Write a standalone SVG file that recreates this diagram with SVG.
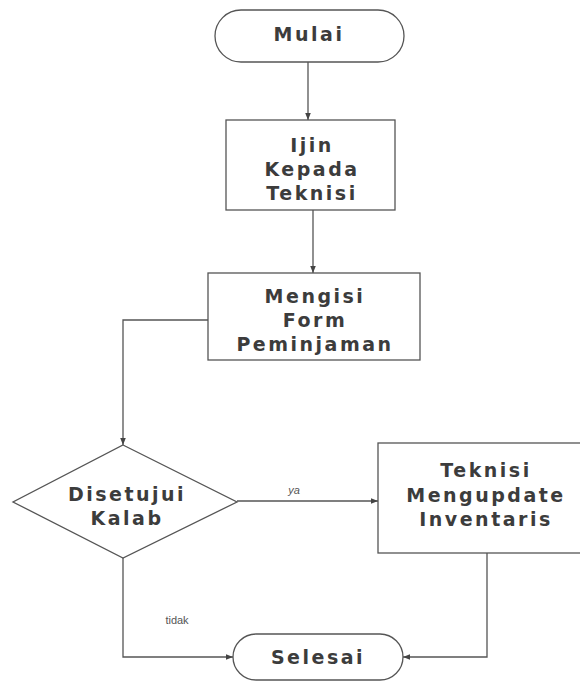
<svg xmlns="http://www.w3.org/2000/svg" width="580" height="681" viewBox="0 0 580 681">
<defs>
<style>
.shape{fill:#fff;stroke:#555;stroke-width:1.3}
.t{font-family:"DejaVu Sans",Verdana,sans-serif;font-weight:bold;font-size:19px;fill:#3c3c3c;letter-spacing:2.5px;text-anchor:middle}
.lbl{font-family:"Liberation Sans",Arial,sans-serif;font-size:11px;fill:#555;text-anchor:middle}
.c{fill:none;stroke:#555;stroke-width:1.3}
</style>
<marker id="ah" viewBox="0 0 10 10" refX="10" refY="5" markerWidth="7" markerHeight="7" orient="auto" markerUnits="userSpaceOnUse">
<path d="M0,1 L10,5 L0,9 z" fill="#444"/>
</marker>
</defs>
<rect width="580" height="681" fill="#fff"/>
<g id="connectors">
<path class="c" d="M308,62 V120" marker-end="url(#ah)"/>
<path class="c" d="M313,210 V273" marker-end="url(#ah)"/>
<path class="c" d="M208,320 H123 V445" marker-end="url(#ah)"/>
<path class="c" d="M237,501 H378" marker-end="url(#ah)"/>
<path class="c" d="M487,553 V657 H403" marker-end="url(#ah)"/>
<path class="c" d="M123,558 V657 H233" marker-end="url(#ah)"/>
<text class="lbl" x="294" y="494" font-style="italic">ya</text>
<text class="lbl" x="177" y="624">tidak</text>
</g>
<g id="mulai">
<rect class="shape" x="215" y="10" width="189" height="52" rx="26"/>
<text class="t" x="309" y="41">Mulai</text>
</g>
<g id="ijin">
<rect class="shape" x="226" y="120" width="169" height="90"/>
<text class="t" x="312" y="152">Ijin</text>
<text class="t" x="312" y="176">Kepada</text>
<text class="t" x="312" y="200">Teknisi</text>
</g>
<g id="mengisi">
<rect class="shape" x="208" y="273" width="212" height="87"/>
<text class="t" x="315" y="303">Mengisi</text>
<text class="t" x="315" y="327">Form</text>
<text class="t" x="315" y="351">Peminjaman</text>
</g>
<g id="disetujui">
<polygon class="shape" points="123,445 237,502 123,558 13,502"/>
<text class="t" x="127" y="501">Disetujui</text>
<text class="t" x="127" y="525">Kalab</text>
</g>
<g id="teknisi">
<rect class="shape" x="378" y="443" width="214" height="110"/>
<text class="t" x="486" y="477">Teknisi</text>
<text class="t" x="486" y="502">Mengupdate</text>
<text class="t" x="486" y="526">Inventaris</text>
</g>
<g id="selesai">
<rect class="shape" x="233" y="634" width="170" height="46" rx="23"/>
<text class="t" x="318" y="664">Selesai</text>
</g>
</svg>
